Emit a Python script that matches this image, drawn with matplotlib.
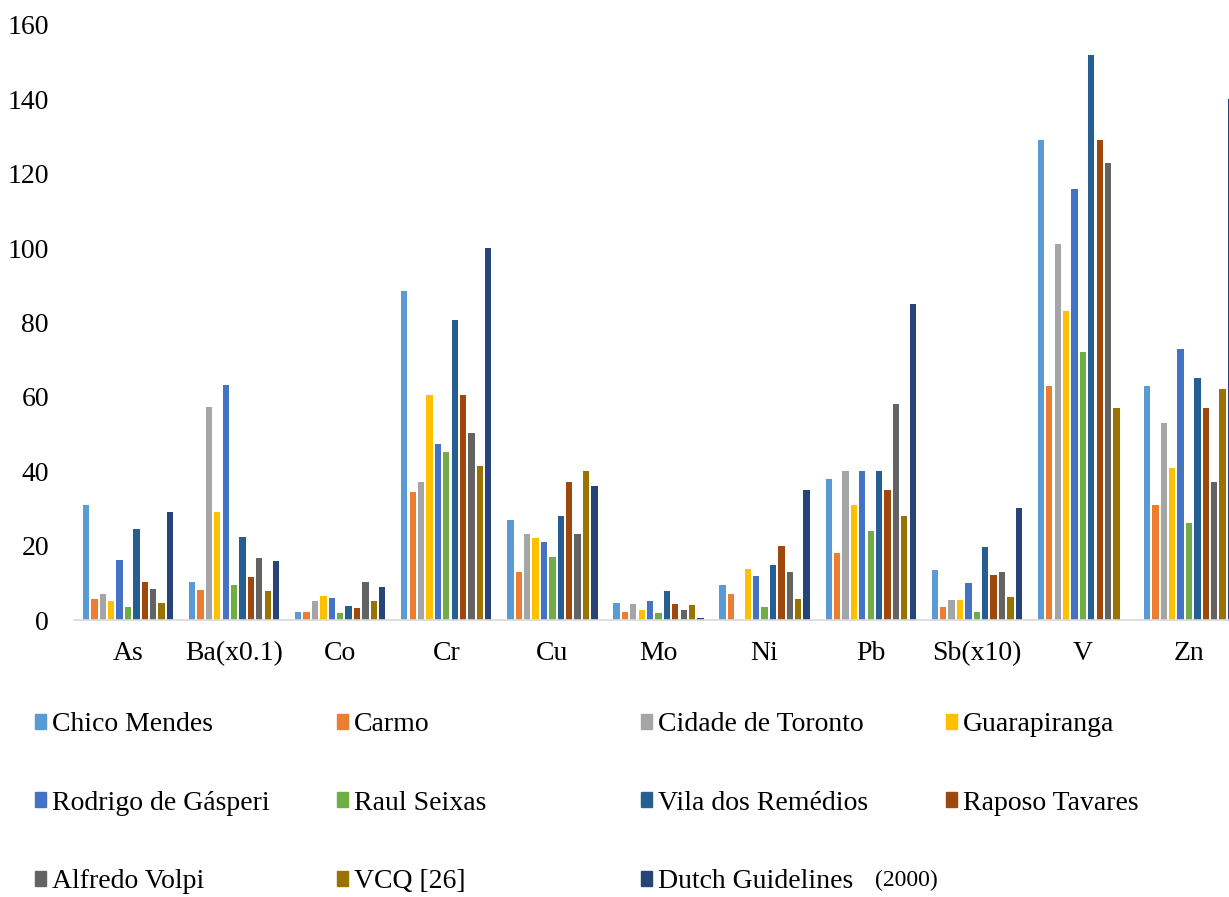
import matplotlib
matplotlib.use("Agg")
import matplotlib.pyplot as plt
import matplotlib.patches as mpatches
import numpy as np

# metals (some scaled so they fit on one axis)
elements = ["As", "Ba(x0.1)", "Co", "Cr", "Cu", "Mo", "Ni", "Pb", "Sb(x10)", "V", "Zn"]

chico_mendes = [30.8, 10.2, 2.2, 88.6, 27, 4.6, 9.4, 38, 13.4, 129, 63]
carmo = [5.6, 8.1, 2.2, 34.3, 13, 2.1, 7.1, 18, 3.6, 63, 31]
cidade_de_toronto = [7.0, 57.4, 5.0, 37.2, 23, 4.4, 0, 40, 5.3, 101, 53]
guarapiranga = [5.0, 29.1, 6.5, 60.4, 22, 2.6, 13.8, 31, 5.3, 83, 41]
rodrigo_de_gasperi = [16.2, 63.2, 6.0, 47.4, 21, 5.2, 11.9, 40, 9.9, 116, 73]
raul_seixas = [3.5, 9.5, 2.0, 45.3, 17, 1.8, 3.6, 24, 2.1, 72, 26]
vila_dos_remedios = [24.6, 22.4, 3.8, 80.6, 28, 7.9, 14.9, 40, 19.7, 152, 65]
raposo_tavares = [10.1, 11.5, 3.2, 60.4, 37, 4.4, 19.9, 35, 12.0, 129, 57]
alfredo_volpi = [8.3, 16.8, 10.1, 50.4, 23, 2.8, 13.0, 58, 12.9, 123, 37]
vcq = [4.5, 7.7, 5.0, 41.3, 40, 3.9, 5.6, 28, 6.3, 57, 62]
dutch_guidelines = [29, 16, 9, 100, 36, 0.5, 35, 85, 30, 0, 140]

series_names = ["Chico Mendes", "Carmo", "Cidade de Toronto", "Guarapiranga",
                "Rodrigo de Gásperi", "Raul Seixas", "Vila dos Remédios", "Raposo Tavares",
                "Alfredo Volpi", "VCQ [26]", "Dutch Guidelines"]
series = [chico_mendes, carmo, cidade_de_toronto, guarapiranga, rodrigo_de_gasperi,
          raul_seixas, vila_dos_remedios, raposo_tavares, alfredo_volpi, vcq, dutch_guidelines]
colors = ["#5B9BD5", "#ED7D31", "#A5A5A5", "#FFC000", "#4472C4", "#70AD47",
          "#255E91", "#9E480E", "#636363", "#997300", "#264478"]

plt.rcParams["font.family"] = ["Liberation Serif", "DejaVu Serif"]

fig = plt.figure(figsize=(12.29, 8.97), dpi=100)
ax = fig.add_axes([74 / 1229, 1 - 620 / 897, 1 - 74 / 1229, (620 - 25) / 897])

x = np.arange(len(elements))
step = 0.0792
for j, (vals, c) in enumerate(zip(series, colors)):
    ax.bar(x + (j - 5) * step, vals, width=0.0594, color=c, label=series_names[j])

ax.set_xlim(-0.509, 10.377)
ax.set_ylim(0, 160)
ax.set_yticks(np.arange(0, 161, 20))
ax.set_xticks(x)
ax.set_xticklabels(elements)
ax.tick_params(axis="both", length=0, labelsize=20)
ax.tick_params(axis="x", pad=15)
ax.tick_params(axis="y", pad=18)
for s in ["top", "right", "left"]:
    ax.spines[s].set_visible(False)
ax.spines["bottom"].set_color("#D9D9D9")
ax.spines["bottom"].set_linewidth(1.2)

# legend: 4 columns laid out row by row
handles = [mpatches.Patch(color=c) for c in colors]
col_x = [35, 337, 641, 946]
for k in range(4):
    idx = list(range(k, 11, 4))
    fig.legend([handles[i] for i in idx], [series_names[i] for i in idx],
               loc="upper left", bbox_to_anchor=(col_x[k] / 1229, 1 - 712 / 897),
               frameon=False, fontsize=20, borderpad=0, borderaxespad=0,
               handlelength=0.4, handleheight=0.45, handletextpad=0.2,
               labelspacing=1.93)
fig.text(875 / 1229, 1 - 880 / 897, "(2000)", fontsize=17, va="center")

fig.savefig("out.png", dpi=100)
